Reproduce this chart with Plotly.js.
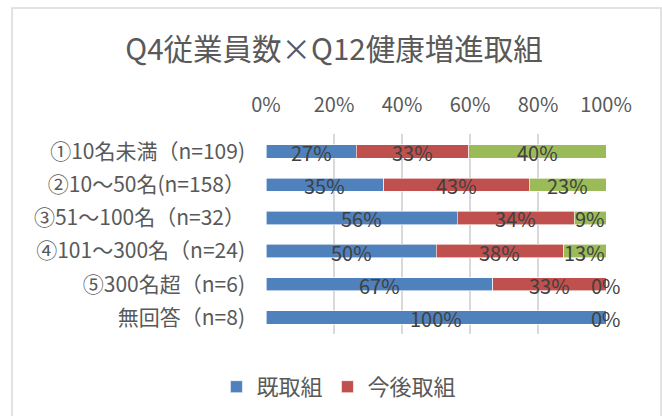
<!DOCTYPE html>
<html>
<head>
<meta charset="utf-8">
<script src="https://cdn.plot.ly/plotly-3.0.1.min.js"></script>
<style>
  html, body { margin: 0; padding: 0; background: #ffffff; }
  #chart { width: 662px; height: 416px; }
</style>
</head>
<body>
<div id="chart"></div>
<script>
// ---- data (percent) ----
const categories = [
  "①10名未満（n=109)",
  "②10～50名(n=158）",
  "③51～100名（n=32）",
  "④101～300名（n=24)",
  "⑤300名超（n=6)",
  "無回答（n=8)"
];
const seriesNames = ["既取組", "今後取組", "取組予定なし"];
const existing = [26.6, 34.7, 56.2, 50.0, 66.7, 100.0];
const future   = [33.0, 42.7, 34.4, 37.5, 33.3, 0.0];
const noPlan   = [40.4, 22.6, 9.4, 12.5, 0.0, 0.0];
const xTickVals = [0, 20, 40, 60, 80, 100];
const xTickText = ["0%", "20%", "40%", "60%", "80%", "100%"];

const colors = ["#4F81BD", "#C0504D", "#9BBB59"];
const FONT = "'Noto Sans CJK JP', 'Noto Sans', sans-serif";
const series = [existing, future, noPlan];

const traces = series.map((vals, i) => ({
  type: "bar",
  orientation: "h",
  name: seriesNames[i],
  x: vals,
  y: categories,
  marker: { color: colors[i], line: { color: "#ffffff", width: 0.6 } },
  showlegend: i < 2,
  hoverinfo: "x+name"
}));

// data labels centred in each segment
const annotations = [];
categories.forEach((cat, j) => {
  let start = 0;
  series.forEach((vals, i) => {
    const v = vals[j];
    if (!(j === 5 && i === 1)) {
      annotations.push({
        x: start + v / 2,
        y: cat,
        xref: "x", yref: "y",
        text: Math.round(v) + "%",
        showarrow: false,
        yshift: -1,
        font: { family: FONT, size: 20, color: "#404040" }
      });
    }
    start += v;
  });
});

const layout = {
  width: 662,
  height: 416,
  margin: { l: 266, r: 56, t: 134, b: 82 },
  paper_bgcolor: "#ffffff",
  plot_bgcolor: "#ffffff",
  font: { family: FONT, color: "#595959" },
  title: {
    text: "Q4従業員数×Q12健康増進取組",
    font: { family: FONT, size: 29.5, color: "#595959" },
    x: 0.5045, xref: "container", xanchor: "center",
    y: 0.88, yref: "container", yanchor: "middle"
  },
  barmode: "stack",
  bargap: 0.6,
  xaxis: {
    side: "top",
    range: [0, 100],
    tickvals: xTickVals,
    ticktext: xTickText,
    showgrid: true,
    gridcolor: "#d9d9d9",
    gridwidth: 1.5,
    zeroline: false,
    showline: false,
    ticks: "",
    ticklabelstandoff: 17,
    tickfont: { family: FONT, size: 20, color: "#595959" },
    fixedrange: true
  },
  yaxis: {
    type: "category",
    autorange: "reversed",
    showgrid: false,
    zeroline: false,
    showline: false,
    ticks: "",
    ticklabelstandoff: 20,
    tickfont: { family: FONT, size: 21, color: "#595959" },
    fixedrange: true
  },
  legend: {
    orientation: "h",
    xref: "container", yref: "container",
    x: 0.512, xanchor: "center",
    y: 0.07, yanchor: "middle",
    font: { family: FONT, size: 22, color: "#595959" },
    traceorder: "normal"
  },
  annotations: annotations,
  shapes: [{
    type: "rect",
    xref: "paper", yref: "paper",
    x0: -0.747, x1: 1.162,
    y0: -0.45, y1: 1.63,
    line: { color: "#d9d9d9", width: 1.5 },
    fillcolor: "rgba(0,0,0,0)",
    layer: "below"
  }]
};

Plotly.newPlot("chart", traces, layout, { displayModeBar: false, staticPlot: true });
</script>
</body>
</html>
